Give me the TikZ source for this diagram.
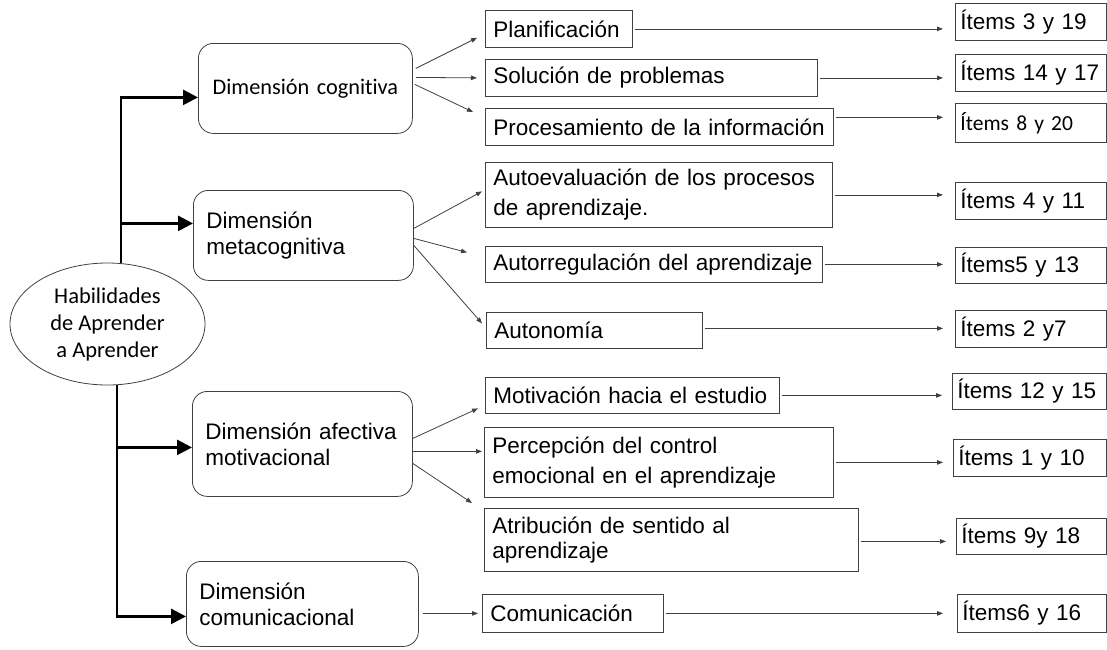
\documentclass[tikz,border=0pt]{standalone}
\usepackage{fontspec}
\setmainfont{Liberation Sans}
\newfontfamily\calibri[Ligatures=CommonOff]{Carlito}
\usetikzlibrary{shapes.geometric,arrows.meta,positioning,calc}
\definecolor{edgegray}{HTML}{404040}

\tikzset{
	dimbox/.style={draw=edgegray, line width=0.8pt, rounded corners=15pt, anchor=north west, align=left, inner xsep=13pt, inner ysep=2pt, font=\fontsize{22.5}{26}\selectfont},
	midbox/.style={draw=edgegray, line width=0.8pt, anchor=north west, align=left, inner xsep=8pt, inner ysep=2pt, font=\fontsize{22.5}{26}\selectfont},
	itembox/.style={draw=edgegray, line width=0.8pt, anchor=north west, align=left, inner xsep=5pt, inner ysep=2pt, font=\fontsize{22.5}{26}\selectfont},
	bigarrow/.style={line width=2.5pt, -{Triangle[length=15pt,width=15pt]}},
	thinarrow/.style={draw=edgegray, line width=0.8pt, -{Triangle[length=6pt,width=4.5pt]}}
}

\begin{document}
\begin{tikzpicture}[x=1pt,y=-1pt]
	\useasboundingbox (0,0) rectangle (1107,649);

	\node[ellipse, draw=edgegray, line width=0.8pt, minimum width=195pt, minimum height=122pt, inner sep=0pt, align=center, font=\calibri\fontsize{22.5}{27}\selectfont] (hab) at (107.5,324) {Habilidades\\de Aprender\\a Aprender};

	% dimensiones
	\node[dimbox, align=center, text width=188pt, minimum height=90pt, font=\calibri\fontsize{22.3}{26}\selectfont] (cog) at (198,43) {Dimensi\'on cognitiva};
	\node[dimbox, text width=194pt, minimum height=90pt] (meta) at (193,190) {Dimensi\'on\\metacognitiva};
	\node[dimbox, text width=194pt, minimum height=105pt] (afe) at (192,391) {Dimensi\'on afectiva\\motivacional};
	\node[dimbox, text width=206pt, minimum height=85pt] (com) at (186,561) {Dimensi\'on\\comunicacional};

	% habilidades
	\node[midbox, text width=131pt, minimum height=37pt] (plan) at (485,10) {Planificaci\'on};
	\node[midbox, text width=316pt, minimum height=37pt] (sol) at (485,59) {Soluci\'on de problemas};
	\node[midbox, text width=332pt, minimum height=37pt] (proc) at (485,108) {Procesamiento de la informaci\'on};
	\node[midbox, text width=331pt, minimum height=65pt, font=\fontsize{22.5}{30}\selectfont] (auto) at (485,162) {Autoevaluaci\'on de los procesos\\de aprendizaje.};
	\node[midbox, text width=321pt, minimum height=36pt] (areg) at (485,246) {Autorregulaci\'on del aprendizaje};
	\node[midbox, text width=200pt, minimum height=36pt] (auton) at (486,312) {Autonom\'ia};
	\node[midbox, text width=278pt, minimum height=36pt] (motiv) at (485,377) {Motivaci\'on hacia el estudio};
	\node[midbox, text width=333pt, minimum height=70pt, font=\fontsize{22.5}{30}\selectfont] (perc) at (484,427) {Percepci\'on del control\\emocional en el aprendizaje};
	\node[midbox, text width=358pt, minimum height=63pt, font=\fontsize{22.5}{25}\selectfont] (atr) at (484,508) {Atribuci\'on de sentido al\\aprendizaje};
	\node[midbox, text width=165pt, minimum height=38pt] (comu) at (482,594) {Comunicaci\'on};

	% items
	\node[itembox, text width=141pt, minimum height=37pt] (it1) at (955,3) {\'Items 3 y 19};
	\node[itembox, text width=141pt, minimum height=37pt] (it2) at (955,54) {\'Items 14 y 17};
	\node[itembox, text width=141pt, minimum height=39pt, font=\calibri\fontsize{21.5}{26}\selectfont] (it3) at (955,103) {\'Items 8 y 20};
	\node[itembox, text width=141pt, minimum height=37pt] (it4) at (955,182) {\'Items 4 y 11};
	\node[itembox, text width=141pt, minimum height=36pt] (it5) at (955,247) {\'Items5 y 13};
	\node[itembox, text width=141pt, minimum height=37pt] (it6) at (955,310) {\'Items 2 y7};
	\node[itembox, text width=144pt, minimum height=36pt] (it7) at (952,373) {\'Items 12 y 15};
	\node[itembox, text width=143pt, minimum height=37pt] (it8) at (953,439) {\'Items 1 y 10};
	\node[itembox, text width=140pt, minimum height=36pt] (it9) at (956,518) {\'Items 9y 18};
	\node[itembox, text width=139pt, minimum height=38pt] (it10) at (957,594) {\'Items6 y 16};

	% troncos
	\coordinate (jt) at (121,0);
	\coordinate (jb) at (117,0);
	\draw[bigarrow] (hab.north -| jt) |- ([yshift=-9pt]cog.west);
	\draw[bigarrow] ([yshift=12pt]meta.west -| jt) -- ([yshift=12pt]meta.west);
	\draw[bigarrow] (hab.south -| jb) |- ([yshift=-12.5pt]com.west);
	\draw[bigarrow] ([yshift=-3.5pt]afe.west -| jb) -- ([yshift=-3.5pt]afe.west);

	% abanicos
	\draw[thinarrow] ($(cog.east)+(3,-20)$) -- ($(plan.south west)+(-8,-10)$);
	\draw[thinarrow] ($(cog.east)+(3,-11)$) -- ($(sol.west)+(-8,0)$);
	\draw[thinarrow] ($(cog.east)+(2,-4)$) -- ($(proc.north west)+(-12,4)$);
	\draw[thinarrow] ($(meta.east)+(0,-7)$) -- ($(auto.west)+(-3,-3.5)$);
	\draw[thinarrow] ($(meta.east)+(0,3)$) -- ($(areg.west)+(-18,-12)$);
	\draw[thinarrow] ($(meta.east)+(0,10)$) -- ($(auton.west)+(-4,-7)$);
	\draw[thinarrow] ($(afe.east)+(0,-5.5)$) -- ($(motiv.west)+(-7,13)$);
	\draw[thinarrow] ($(afe.east)+(0,7.5)$) -- ($(perc.west)+(-2,-11)$);
	\draw[thinarrow] ($(afe.east)+(0,19.5)$) -- ($(atr.north west)+(-12,-5)$);
	\draw[thinarrow] ($(com.east)+(4,9.5)$) -- ($(comu.west)+(-4,0)$);

	% hacia los items
	\draw[thinarrow] ([xshift=2pt]plan.east) -- ([xshift=-12pt]plan.east -| it1.west);
	\draw[thinarrow] ([xshift=2pt]sol.east) -- ([xshift=-12pt]sol.east -| it2.west);
	\draw[thinarrow] ([xshift=2pt,yshift=9.5pt]proc.east) -- ([xshift=-12pt,yshift=9.5pt]proc.east -| it3.west);
	\draw[thinarrow] ([xshift=2pt]auto.east) -- ([xshift=-12pt]auto.east -| it4.west);
	\draw[thinarrow] ([xshift=2pt]areg.east) -- ([xshift=-12pt]areg.east -| it5.west);
	\draw[thinarrow] ([xshift=2pt,yshift=2pt]auton.east) -- ([xshift=-12pt,yshift=2pt]auton.east -| it6.west);
	\draw[thinarrow] ([xshift=2pt]motiv.east) -- ([xshift=-10pt]motiv.east -| it7.west);
	\draw[thinarrow] ([xshift=2pt]perc.east) -- ([xshift=-10pt]perc.east -| it8.west);
	\draw[thinarrow] ([xshift=2pt,yshift=-1.5pt]atr.east) -- ([xshift=-10pt,yshift=-1.5pt]atr.east -| it9.west);
	\draw[thinarrow] ([xshift=2pt]comu.east) -- ([xshift=-14pt]comu.east -| it10.west);
\end{tikzpicture}
\end{document}
